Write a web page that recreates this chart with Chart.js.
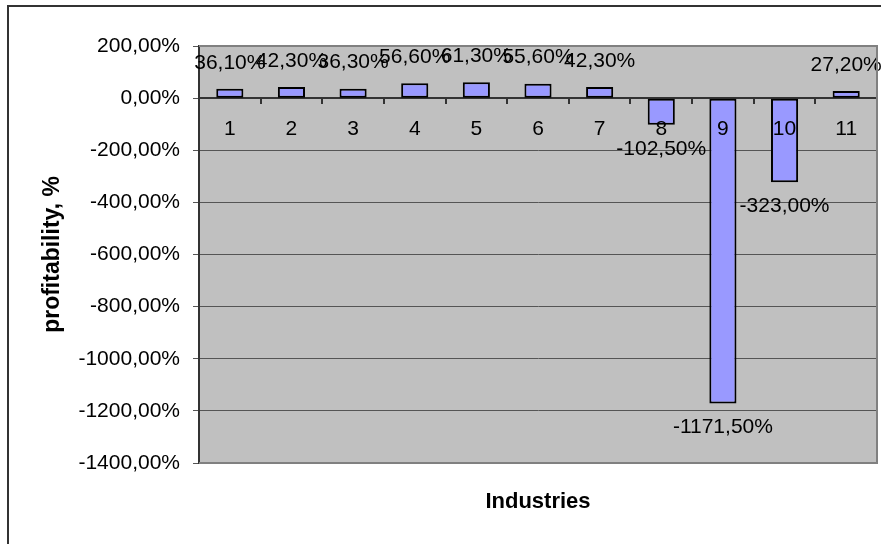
<!DOCTYPE html>
<html lang="en">
<head>
<meta charset="UTF-8">
<title>Profitability by industry</title>
<script src="https://cdn.jsdelivr.net/npm/chart.js"></script>
<style>
  html, body { margin: 0; padding: 0; background: #fff; }
  #wrap { width: 881px; height: 544px; }
</style>
</head>
<body>
<div id="wrap"><canvas id="profit" width="881" height="544"></canvas></div>
<script>
// industries and their profitability, %
const industries = ['1', '2', '3', '4', '5', '6', '7', '8', '9', '10', '11'];
const profitability = [36.1, 42.3, 36.3, 56.6, 61.3, 55.6, 42.3, -102.5, -1171.5, -323.0, 27.2];
const yMin = -1400;
const yMax = 200;
const yStep = 200;

const FONT = '"Liberation Sans", Arial, sans-serif';

function pct(v) {
  return v.toFixed(2).replace('.', ',') + '%';
}

// gray plot area + outer frame
const frame = {
  id: 'frame',
  beforeDraw(chart) {
    const a = chart.chartArea, ctx = chart.ctx;
    ctx.save();
    ctx.fillStyle = '#C0C0C0';
    ctx.fillRect(a.left, a.top, a.right - a.left, a.bottom - a.top);
    ctx.restore();
  },
  afterDraw(chart) {
    const a = chart.chartArea, ctx = chart.ctx;
    ctx.save();
    ctx.strokeStyle = '#808080';
    ctx.lineWidth = 2;
    ctx.beginPath();
    ctx.moveTo(a.left, a.top);
    ctx.lineTo(a.right, a.top);
    ctx.lineTo(a.right, a.bottom);
    ctx.lineTo(a.left, a.bottom);
    ctx.stroke();
    ctx.strokeStyle = '#333';
    ctx.strokeRect(8, 6, 1000, 1000);
    ctx.restore();
  }
};

// value labels past the end of each bar
const valueLabels = {
  id: 'valueLabels',
  afterDatasetsDraw(chart) {
    const ctx = chart.ctx;
    const meta = chart.getDatasetMeta(0);
    ctx.save();
    ctx.font = '21px ' + FONT;
    ctx.fillStyle = '#000';
    ctx.textAlign = 'center';
    ctx.textBaseline = 'middle';
    meta.data.forEach((bar, i) => {
      const v = profitability[i];
      const y = v >= 0 ? bar.y - 26 : bar.y + 24;
      ctx.fillText(pct(v), bar.x, y);
    });
    ctx.restore();
  }
};

new Chart(document.getElementById('profit'), {
  type: 'bar',
  data: {
    labels: industries,
    datasets: [{
      data: profitability,
      backgroundColor: '#9999FF',
      borderColor: '#000',
      borderWidth: 2,
      borderSkipped: false,
      barPercentage: 0.44,
      categoryPercentage: 1.0
    }]
  },
  options: {
    responsive: false,
    animation: false,
    layout: { padding: { top: 46, right: 4, left: 0, bottom: 0 } },
    plugins: {
      legend: { display: false },
      tooltip: { enabled: false }
    },
    scales: {
      x: {
        type: 'category',
        position: { y: 0 },
        offset: true,
        grid: {
          offset: true,
          drawOnChartArea: false,
          drawTicks: true,
          tickLength: 5,
          color: '#333',
          lineWidth: 2
        },
        border: { display: true, color: '#333', width: 2 },
        ticks: {
          z: 1,
          color: '#000',
          font: { family: FONT, size: 21 },
          padding: 13,
          maxRotation: 0,
          autoSkip: false
        }
      },
      x2: {
        type: 'category',
        position: 'bottom',
        labels: industries,
        offset: true,
        grid: { display: false },
        border: { display: false },
        ticks: { display: false },
        title: {
          display: true,
          text: 'Industries',
          color: '#000',
          font: { family: FONT, size: 22, weight: 'bold' },
          padding: { top: 0, bottom: 29 }
        },
        afterFit(scale) { scale.height = 81; }
      },
      y: {
        min: yMin,
        max: yMax,
        ticks: {
          stepSize: yStep,
          color: '#000',
          font: { family: FONT, size: 21 },
          padding: 13,
          callback: v => pct(v)
        },
        grid: {
          color: '#555',
          lineWidth: 1,
          drawTicks: true,
          tickLength: 6
        },
        border: { display: true, color: '#333', width: 2 },
        title: {
          display: true,
          text: 'profitability, %',
          color: '#000',
          font: { family: FONT, size: 23, weight: 'bold' },
          padding: { top: 39, bottom: 0 }
        },
        afterFit(scale) { scale.width = 199; }
      }
    }
  },
  plugins: [frame, valueLabels]
});
</script>
</body>
</html>
